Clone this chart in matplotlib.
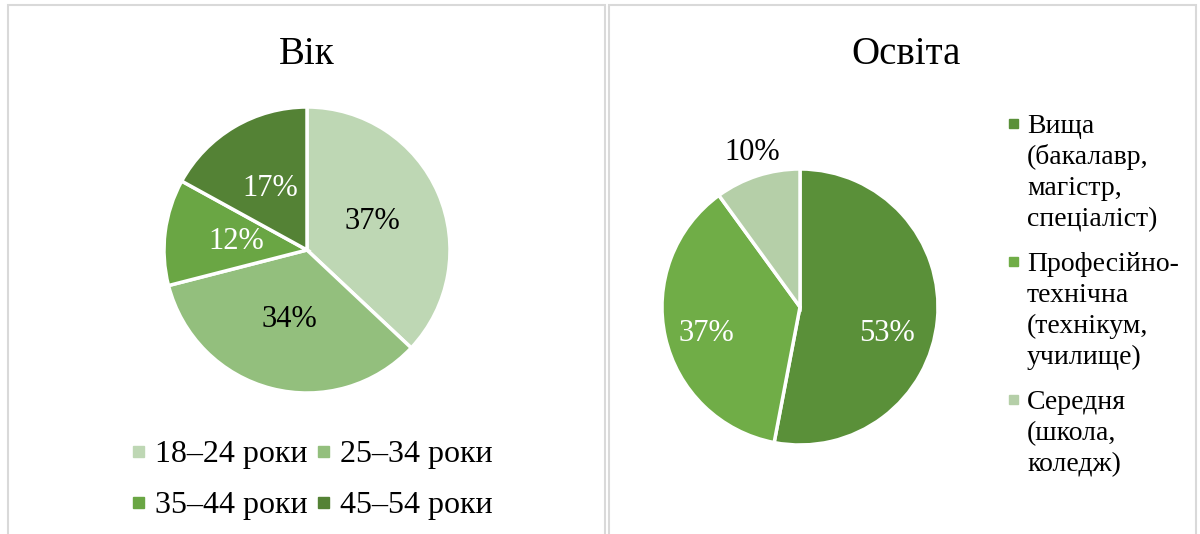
import matplotlib.pyplot as plt
from matplotlib.patches import Rectangle

plt.rcParams['font.family'] = ['Liberation Serif', 'DejaVu Serif']

# data
age_labels = ['18–24 роки', '25–34 роки', '35–44 роки', '45–54 роки']
age_values = [37, 34, 12, 17]
age_colors = ['#bed7b4', '#93bf7d', '#6aa644', '#548235']

edu_labels = ['Вища\n(бакалавр,\nмагістр,\nспеціаліст)',
              'Професійно-\nтехнічна\n(технікум,\nучилище)',
              'Середня\n(школа,\nколедж)']
edu_values = [53, 37, 10]
edu_colors = ['#5a9039', '#70ad47', '#b5cfa8']

W, H = 1200, 534
fig = plt.figure(figsize=(W / 100, H / 100), dpi=100)


def fx(x):
    return x / W


def fy(y):
    return 1 - y / H


# panel frames
for x0, x1 in [(8, 605), (609, 1196)]:
    fig.patches.append(Rectangle((fx(x0), fy(H + 5)), fx(x1 - x0), (H - 5) / H + 5 / H,
                                 transform=fig.transFigure, fill=False,
                                 edgecolor='#d9d9d9', linewidth=1.5))


def pie_axes(cx, cy, r):
    return fig.add_axes([fx(cx - r), fy(cy + r), fx(2 * r), 2 * r / H])


def pct(p):
    return '%d%%' % round(p)


fs_pct = 22

# left pie
ax1 = pie_axes(307, 250, 143)
w1, _, t1 = ax1.pie(age_values, colors=age_colors, startangle=90, counterclock=False,
                    autopct=pct, pctdistance=0.5,
                    wedgeprops=dict(edgecolor='white', linewidth=2.5),
                    textprops=dict(fontsize=fs_pct))
for t, c in zip(t1, ['black', 'black', 'white', 'white']):
    t.set_color(c)
ax1.set_xlim(-1, 1)
ax1.set_ylim(-1, 1)
ax1.axis('off')
fig.text(fx(307), fy(64), 'Вік', ha='center', va='baseline', fontsize=28)

# right pie
ax2 = pie_axes(800, 307, 138)
w2, _, t2 = ax2.pie(edu_values, colors=edu_colors, startangle=90, counterclock=False,
                    autopct=pct, pctdistance=0.68,
                    wedgeprops=dict(edgecolor='white', linewidth=2.5),
                    textprops=dict(fontsize=fs_pct))
for t, c in zip(t2, ['white', 'white', 'black']):
    t.set_color(c)
t2[0].set_position((0.63, -0.19))
t2[1].set_position((-0.68, -0.19))
t2[2].set_position((-0.35, 1.12))
for t in t2:
    t.set_clip_on(False)
ax2.set_xlim(-1, 1)
ax2.set_ylim(-1, 1)
ax2.axis('off')
fig.text(fx(906), fy(64), 'Освіта', ha='center', va='baseline', fontsize=28)


def legend_item(x, y_base, color, text, fs, size, gap, line_h=31):
    fig.patches.append(Rectangle((fx(x), fy(y_base - 5)), fx(size), size / H,
                                 transform=fig.transFigure, color=color))
    lines = text.split('\n')
    for i, line in enumerate(lines):
        fig.text(fx(x + gap), fy(y_base + i * line_h), line, ha='left',
                 va='baseline', fontsize=fs)
    return len(lines)


# left legend, two columns
cols = [133, 318]
rows = [462, 513]
for i, (lab, col) in enumerate(zip(age_labels, age_colors)):
    legend_item(cols[i % 2], rows[i // 2], col, lab, 23, 11, 22)

# right legend, stacked
yb = 133
for lab, col in zip(edu_labels, edu_colors):
    n = legend_item(1009, yb, col, lab, 20, 9, 18)
    yb += n * 31 + 14

fig.savefig('out.png', dpi=100)
